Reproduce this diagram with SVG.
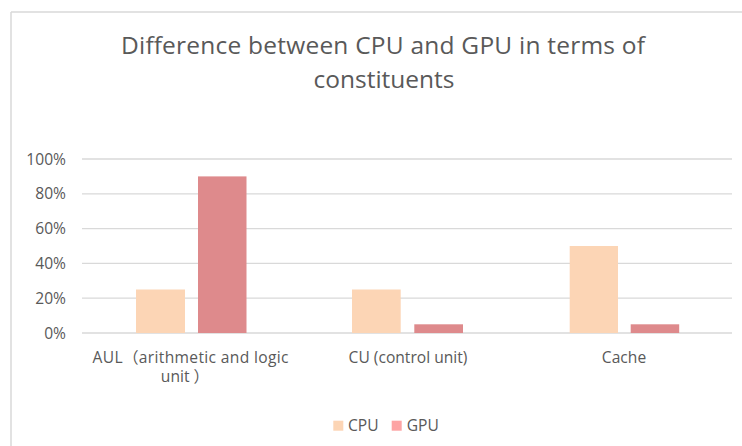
<svg xmlns="http://www.w3.org/2000/svg" width="742" height="446" viewBox="0 0 742 446">
  <style>
    .frame { stroke: #d9d9d9; stroke-width: 1.5; fill: none; }
    .grid { stroke: #d9d9d9; stroke-width: 1.3; }
    .txt { font-family: "Open Sans", "Noto Sans", "Noto Sans CJK SC", sans-serif; fill: #595959; }
    .title { font-size: 24.5px; text-anchor: middle; }
    .ylab { font-size: 15.6px; text-anchor: end; }
    .xlab { font-size: 15.6px; text-anchor: middle; }
    .leg { font-size: 15.6px; }
    .cpu { fill: #fcd5b5; }
    .gpu { fill: #de8a8c; }
    .gpu-key { fill: #fda4a4; }
  </style>

  <rect x="0" y="0" width="742" height="446" fill="#ffffff"/>

  <!-- chart border (continues past the right and bottom edges) -->
  <g id="frame">
    <line class="frame" x1="11" y1="12" x2="742" y2="12"/>
    <line class="frame" x1="11" y1="12" x2="11" y2="446"/>
  </g>

  <!-- title -->
  <g id="title" class="txt title">
    <text x="383" y="54" textLength="524">Difference between CPU and GPU in terms of</text>
    <text x="384" y="88" textLength="141">constituents</text>
  </g>

  <!-- horizontal gridlines, 0% to 100% -->
  <g id="gridlines">
    <line class="grid" x1="82" y1="159" x2="732" y2="159"/>
    <line class="grid" x1="82" y1="193.8" x2="732" y2="193.8"/>
    <line class="grid" x1="82" y1="228.6" x2="732" y2="228.6"/>
    <line class="grid" x1="82" y1="263.4" x2="732" y2="263.4"/>
    <line class="grid" x1="82" y1="298.2" x2="732" y2="298.2"/>
    <line class="grid" x1="82" y1="333" x2="732" y2="333"/>
  </g>

  <!-- value axis labels -->
  <g id="y-axis" class="txt ylab">
    <text x="66" y="164.5">100%</text>
    <text x="66" y="199.3">80%</text>
    <text x="66" y="234.1">60%</text>
    <text x="66" y="268.9">40%</text>
    <text x="66" y="303.7">20%</text>
    <text x="66" y="338.5">0%</text>
  </g>

  <!-- bars: 100% = 174px above the baseline at y=333 -->
  <g id="series-cpu" class="cpu">
    <rect x="136" y="289.5" width="49" height="43.5"/>
    <rect x="352" y="289.5" width="48.7" height="43.5"/>
    <rect x="569.7" y="246" width="48.3" height="87"/>
  </g>
  <g id="series-gpu" class="gpu">
    <rect x="198" y="176.4" width="48.5" height="156.6"/>
    <rect x="414.3" y="324.3" width="48.7" height="8.7"/>
    <rect x="630.7" y="324.3" width="48.5" height="8.7"/>
  </g>

  <!-- category labels -->
  <g id="x-axis" class="txt xlab">
    <text x="190.5" y="362.5" textLength="196">AUL（arithmetic and logic</text>
    <text x="185" y="382">unit ）</text>
    <text x="408" y="363">CU (control unit)</text>
    <text x="624" y="363">Cache</text>
  </g>

  <!-- legend -->
  <g id="legend">
    <rect class="cpu" x="333.3" y="420.7" width="10" height="10"/>
    <text class="txt leg" x="348" y="431">CPU</text>
    <rect class="gpu-key" x="391.7" y="420.7" width="10" height="10"/>
    <text class="txt leg" x="406.7" y="431">GPU</text>
  </g>
</svg>
